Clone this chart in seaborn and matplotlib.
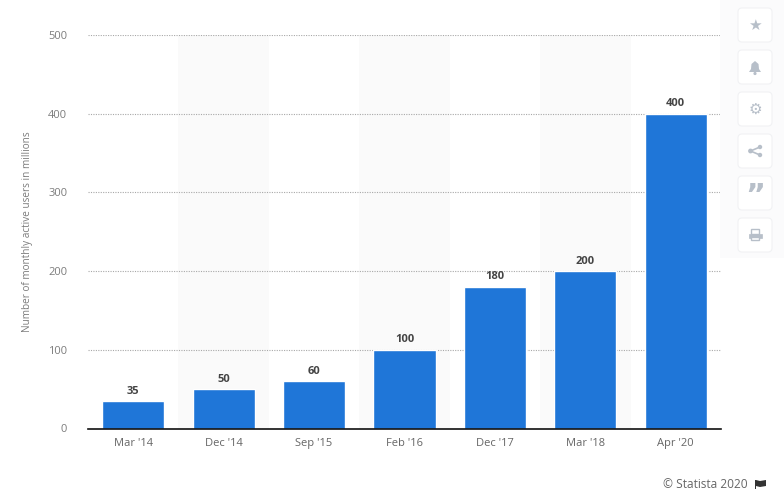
import matplotlib
matplotlib.use("Agg")
import matplotlib.pyplot as plt
import pandas as pd
import seaborn as sns
from matplotlib.patches import Circle, FancyBboxPatch, Polygon, Rectangle

dates = ["Mar '14", "Dec '14", "Sep '15", "Feb '16", "Dec '17", "Mar '18", "Apr '20"]
users = [35, 50, 60, 100, 180, 200, 400]
y_ticks = [0, 100, 200, 300, 400, 500]
y_label = "Number of monthly active users in millions"
credit = "© Statista 2020"

W, H = 784, 499
sns.set_theme(style="white")
plt.rcParams["font.family"] = ["Open Sans", "DejaVu Sans"]

df = pd.DataFrame({"date": dates, "users": users})

fig = plt.figure(figsize=(W / 100, H / 100), dpi=100, facecolor="white")
ax = fig.add_axes([88 / W, 1 - 428.5 / H, 633 / W, 393.5 / H])

# alternating bands behind every other category
for i in range(1, len(dates), 2):
    ax.axvspan(i - 0.5, i + 0.5, color="#fafafa", lw=0, zorder=0)

sns.barplot(data=df, x="date", y="users", color="#1f76d8", width=0.686, saturation=1, ax=ax, zorder=3)

ax.set_xlim(-0.5, len(dates) - 0.5)
ax.set_ylim(0, 500)
ax.set_yticks(y_ticks)
ax.set_xlabel("")
ax.set_ylabel(y_label, fontsize=7.2, color="#7c7c7c", labelpad=11)
ax.tick_params(axis="x", length=0, labelsize=8, labelcolor="#666666", pad=7)
ax.tick_params(axis="y", length=0, labelsize=8, labelcolor="#7c7c7c", pad=15)
ax.grid(axis="y", color="#a8a8a8", lw=0.8, ls=(0, (1, 1.2)), zorder=1)
ax.set_axisbelow(True)
for side in ["top", "left", "right"]:
    ax.spines[side].set_visible(False)
ax.spines["bottom"].set_color("#111111")
ax.spines["bottom"].set_linewidth(1.2)
ax.spines["bottom"].set_zorder(5)

for i, v in enumerate(users):
    ax.annotate(str(v), (i, v), xytext=(0, 3.2), textcoords="offset points", ha="center", va="bottom",
                fontsize=8, fontweight="bold", color="#444444", zorder=6)

# overlay in pixel coordinates for the sidebar and footer
ov = fig.add_axes([0, 0, 1, 1], zorder=10)
ov.set_xlim(0, W)
ov.set_ylim(H, 0)
ov.axis("off")
ov.patch.set_alpha(0)

ov.text(748, 484.5, credit, ha="right", va="center", fontsize=8.6, color="#666666")
ov.add_patch(Rectangle((755, 480), 1, 9, color="#333333", lw=0))
ov.add_patch(Polygon([(756, 480), (760, 481), (766, 480), (766, 486), (760, 487), (756, 486)], color="#333333", lw=0))

# sidebar panel and buttons
ov.add_patch(Rectangle((720, 0), 64, 258, color="#fbfbfc", lw=0, zorder=1))
icon = "#b7bfc9"
centers = [25, 67, 109, 151, 193, 235]
for c in centers:
    ov.add_patch(FancyBboxPatch((741, c - 14), 28, 28, boxstyle="round,pad=3,rounding_size=4",
                                fc="white", ec="#f1f2f4", lw=0.8, zorder=2))

ov.text(755, 25, "★", family="DejaVu Sans", fontsize=11, color=icon, ha="center", va="center", zorder=3)

ov.add_patch(Polygon([(749, 72), (751, 69), (751.5, 64), (755, 61), (758.5, 64), (759, 69), (761, 72)],
                     color=icon, lw=0, zorder=3))
ov.add_patch(Circle((755, 73.5), 1.6, color=icon, lw=0, zorder=3))

ov.text(755, 109, "⚙", family="DejaVu Sans", fontsize=11, color=icon, ha="center", va="center", zorder=3)

ov.plot([760, 750.5, 760], [147, 151, 155], color=icon, lw=1.2, zorder=3)
for px, py, r in [(760, 147, 2.2), (750.5, 151, 2.4), (760, 155, 2.2)]:
    ov.add_patch(Circle((px, py), r, color=icon, lw=0, zorder=3))

ov.text(755, 197, "”", family="DejaVu Sans", fontsize=22, fontweight="bold", color=icon, ha="center", va="center", zorder=3)

ov.add_patch(Rectangle((751.5, 229), 7.5, 5, fc="white", ec=icon, lw=1, zorder=3))
ov.add_patch(Rectangle((749, 233.5), 13, 4.5, fc=icon, ec=icon, lw=0.5, zorder=3))
ov.add_patch(Rectangle((751.5, 237), 7.5, 3, fc="white", ec=icon, lw=1, zorder=4))

fig.savefig("out.png", dpi=100)
